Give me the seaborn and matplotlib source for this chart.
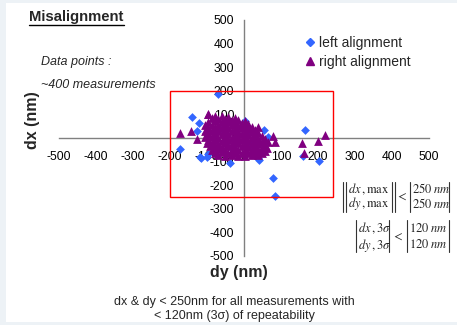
import matplotlib
matplotlib.use("Agg")
import matplotlib.pyplot as plt
import seaborn as sns
import pandas as pd
from matplotlib.lines import Line2D
from matplotlib.patches import Rectangle

# ---------------- data ----------------
left_dy = [-70, -141, -121, -127, -173, -119, -97, -117, -38, 3, -103, 55, 66,
           -100, 38, 41, 165, 159, 203, 79, 84, -60, -20, 20, -50, 0, 30, -80, 10, -30]
left_dx = [186, 89, 64, 30, -47, -80, -68, -85, -106, 72, 21, 32, 6,
           -80, -85, -93, 34, -75, -96, -168, -246, 40, 10, -30, -20, 50, -10, 0, 20, -50]

right_dy = [-96, -78, -60, -42, -24,
            -87, -69, -51, -33, -15, 3,
            -96, -78, -60, -42, -24, -6, 12,
            -105, -87, -69, -51, -33, -15, 3, 21, 37,
            -96, -78, -60, -42, -24, -6, 12, 30,
            -105, -87, -69, -51, -33, -15, 3, 21, 39,
            -96, -78, -60, -42, -24, -6, 12, 30, 48,
            -105, -87, -69, -51, -33, -15, 3, 21, 39, 57,
            -96, -78, -60, -42, -24, -6, 12, 30, 48, 64,
            -101, -87, -69, -51, -33, -15, 3, 21, 39, 57,
            -92, -78, -60, -42, -24, -6, 12, 30, 48, 62,
            -87, -69, -51, -33, -15, 3, 21, 39, 56,
            -78, -60, -42, -24, -6, 12, 30, 48,
            -69, -51, -33, -15, 3, 21, 37,
            -173, -143, -127, -97, 79, 84, 157, 162, 200, 219]
right_dx = [100, 94, 92, 88, 84,
            84, 82, 80, 78, 76, 72,
            68, 70, 68, 66, 65, 63, 60,
            54, 56, 55, 53, 54, 52, 50, 48, 46,
            42, 43, 41, 42, 40, 41, 38, 36,
            28, 30, 29, 28, 29, 27, 26, 24, 22,
            16, 17, 15, 16, 14, 15, 13, 11, 10,
            3, 4, 2, 3, 1, 2, 0, -1, -3, -4,
            -10, -9, -11, -10, -12, -9, -12, -13, -15, -16,
            -23, -22, -24, -23, -25, -22, -25, -26, -27, -29,
            -36, -35, -37, -36, -38, -35, -38, -39, -41, -42,
            -49, -48, -50, -49, -51, -49, -50, -52, -54,
            -62, -61, -63, -62, -64, -62, -63, -63,
            -73, -75, -74, -76, -75, -74, -72,
            21, 30, -4, 100, 10, -17, -21, -64, -13, 13]

series_names = ["left alignment", "right alignment"]
ticks = [-500, -400, -300, -200, -100, 0, 100, 200, 300, 400, 500]
spec_box = (-200, -250, 240, 200)  # dy_min, dx_min, dy_max, dx_max

title = "Misalignment"
note_lines = ["Data points :", "~400 measurements"]
caption = "dx & dy < 250nm for all measurements with\n< 120nm (3\u03c3) of repeatability"

BLUE = "#3366FF"
PURPLE = "#800080"

# ---------------- figure ----------------
sns.set_style("white")
plt.rcParams["font.family"] = ["Liberation Sans", "DejaVu Sans"]
plt.rcParams["mathtext.fontset"] = "stix"
plt.rcParams["axes.unicode_minus"] = False

W, H = 457, 325
fig = plt.figure(figsize=(W / 100, H / 100), dpi=100)
fig.patch.set_facecolor("#EDF2F6")
fig.add_artist(Rectangle((6 / W, 1 - 322 / H), (457 - 6) / W, (322 - 3) / H,
                         transform=fig.transFigure, facecolor="white",
                         edgecolor="none", zorder=0))

def fx(x):
    return x / W

def fy(y):
    return 1 - y / H

ax = fig.add_axes([fx(59), fy(256), (429 - 59) / W, (256 - 20) / H])
ax.set_facecolor("none")

df_left = pd.DataFrame({"dy": left_dy, "dx": left_dx})
df_right = pd.DataFrame({"dy": right_dy, "dx": right_dx})

sns.scatterplot(data=df_left, x="dy", y="dx", ax=ax, marker="D", s=20,
                color=BLUE, linewidth=0, label=series_names[0], zorder=3)
sns.scatterplot(data=df_right, x="dy", y="dx", ax=ax, marker="^", s=40,
                color=PURPLE, linewidth=0, label=series_names[1], zorder=4)

ax.set_xlim(-500, 500)
ax.set_ylim(-500, 500)
ax.set_xticks(ticks)
ax.set_yticks(ticks)
ax.set_xlabel("")
ax.set_ylabel("")

for s in ["top", "right"]:
    ax.spines[s].set_visible(False)
ax.spines["left"].set_position(("data", 0))
ax.spines["bottom"].set_position(("data", 0))
for s in ["left", "bottom"]:
    ax.spines[s].set_color("#808080")
    ax.spines[s].set_linewidth(1.0)
    ax.spines[s].set_zorder(2)
ax.tick_params(axis="both", direction="out", length=3, width=1.0,
               color="#808080", labelsize=8.7, labelcolor="black")
ax.tick_params(axis="x", pad=6)
ax.tick_params(axis="y", pad=4)
ax.grid(False)

x0, y0, x1, y1 = spec_box
ax.add_patch(Rectangle((x0, y0), x1 - x0, y1 - y0, fill=False,
                       edgecolor="#FF0000", linewidth=1.0, zorder=5))

leg = ax.get_legend()
if leg is not None:
    leg.remove()
handles = [Line2D([], [], marker="D", color=BLUE, linestyle="none", markersize=4.2),
           Line2D([], [], marker="^", color=PURPLE, linestyle="none", markersize=6.3)]
fig.legend(handles, series_names, loc="upper left",
           bbox_to_anchor=(fx(306), fy(36)), frameon=False, fontsize=10,
           handlelength=0.6, handletextpad=0.35, labelspacing=0.38,
           borderpad=0, borderaxespad=0)

# texts
fig.text(fx(29), fy(17), title, fontsize=10.7, fontweight="bold",
         ha="left", va="center")
fig.add_artist(Line2D([fx(29), fx(124)], [fy(25), fy(25)], color="black",
                      linewidth=1.0, transform=fig.transFigure))
fig.text(fx(41), fy(62), note_lines[0], fontsize=9, style="italic",
         ha="left", va="center")
fig.text(fx(41), fy(85), note_lines[1], fontsize=9, style="italic",
         ha="left", va="center")
fig.text(fx(33), fy(120), "dx (nm)", fontsize=11.5, fontweight="bold",
         rotation=90, ha="center", va="center")
fig.text(fx(239), fy(272), "dy (nm)", fontsize=11.5, fontweight="bold",
         ha="center", va="center")
fig.text(fx(234), fy(309), caption, fontsize=9, ha="center", va="center",
         linespacing=1.25)

# matrix formulas
def vbar(x, ytop, ybot):
    fig.add_artist(Line2D([fx(x), fx(x)], [fy(ytop), fy(ybot)], color="#333333",
                          linewidth=0.8, transform=fig.transFigure))

fs = 9
# first inequality
vbar(343, 182, 212); vbar(346, 182, 212)
fig.text(fx(348), fy(189), r"$dx\,,\mathrm{max}$", fontsize=fs, ha="left", va="center")
fig.text(fx(348), fy(204), r"$dy\,,\mathrm{max}$", fontsize=fs, ha="left", va="center")
vbar(392, 182, 212); vbar(395, 182, 212)
fig.text(fx(402), fy(197), r"$<$", fontsize=fs, ha="center", va="center")
vbar(410, 182, 212); vbar(449, 182, 212)
fig.text(fx(412), fy(189), r"$250\;nm$", fontsize=fs, ha="left", va="center")
fig.text(fx(412), fy(204), r"$250\;nm$", fontsize=fs, ha="left", va="center")
# second inequality
vbar(356, 220, 252)
fig.text(fx(358), fy(228), r"$dx\,,3\sigma$", fontsize=fs, ha="left", va="center")
fig.text(fx(358), fy(245), r"$dy\,,3\sigma$", fontsize=fs, ha="left", va="center")
vbar(389, 220, 252)
fig.text(fx(398), fy(237), r"$<$", fontsize=fs, ha="center", va="center")
vbar(407, 220, 252); vbar(449, 220, 252)
fig.text(fx(409), fy(228), r"$120\;nm$", fontsize=fs, ha="left", va="center")
fig.text(fx(409), fy(245), r"$120\;nm$", fontsize=fs, ha="left", va="center")

fig.savefig("out.png", dpi=100, facecolor=fig.get_facecolor())
